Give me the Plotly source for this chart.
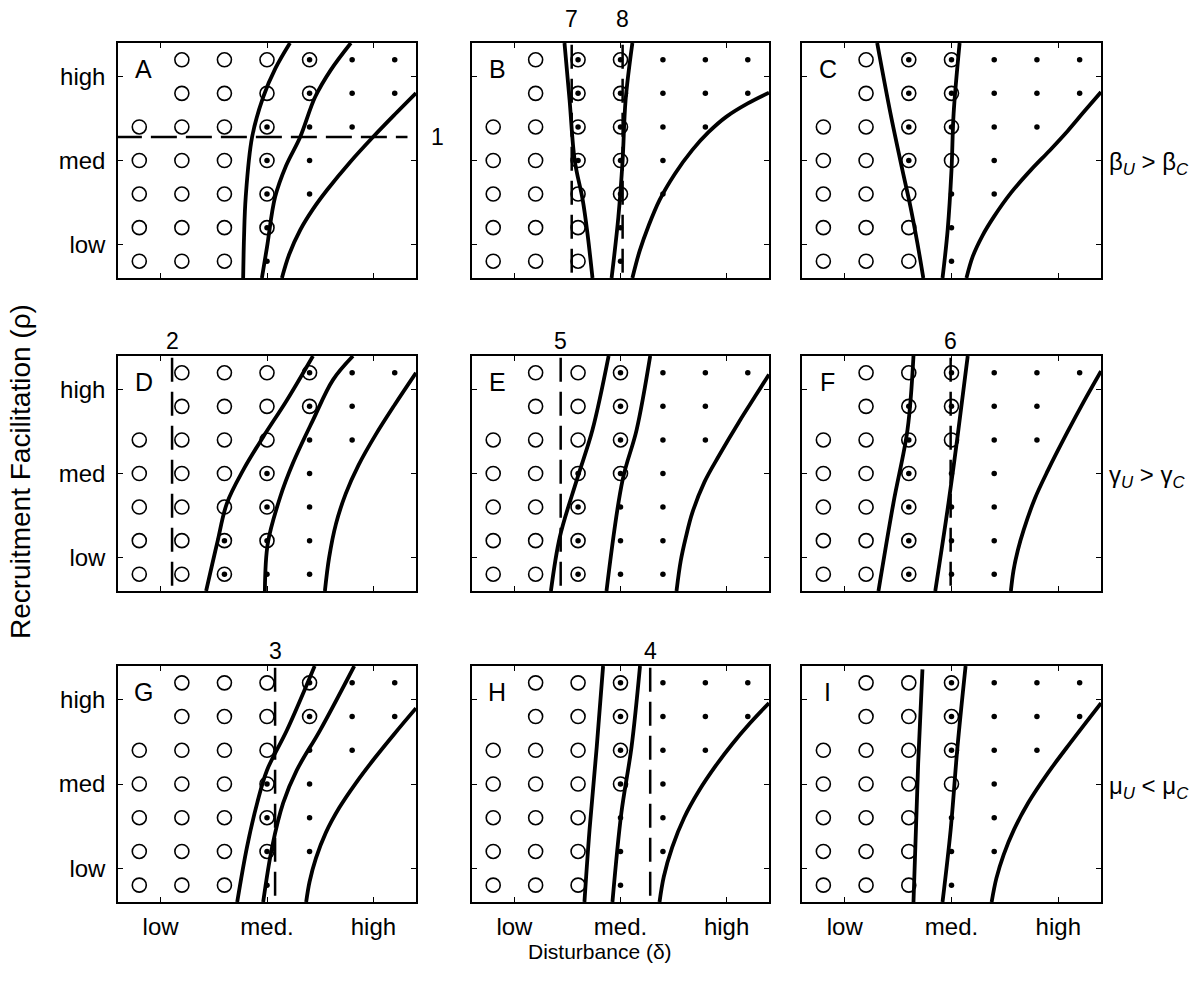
import plotly.graph_objects as go

# ---------------- data ----------------
COLS = [1, 2, 3, 4, 5, 6, 7]          # disturbance grid columns
ROWS = [7, 6, 5, 4, 3, 2, 1]          # facilitation grid rows (top -> bottom)
TICK_POS = [1.5, 4, 6.5]
X_TICK_LABELS = ["low", "med.", "high"]
Y_TICK_LABELS = ["low", "med", "high"]
PANEL_LETTERS = ["A", "B", "C", "D", "E", "F", "G", "H", "I"]

# cell codes: o = open circle (U), x = circle with dot (U+C), . = dot (C), - = none
GRID_A = ["-ooox..", "-ooox..", "ooox..-", "ooox.--", "ooox.--", "ooox---", "ooo.---"]
GRID_B = ["-oxx...", "-oxx...", "ooxx..-", "ooxx.--", "ooox.--", "ooo.---", "ooo.---"]
GRID_C = ["-oxx...", "-oxx...", "ooxx..-", "ooxo.--", "ooo..--", "ooo.---", "ooo.---"]
GRID_D = ["-ooox..", "-ooox.-", "oooo..-", "ooox.--", "ooox.--", "ooxx.--", "oox..--"]
GRID_E = ["-oox...", "-oox..-", "ooox..-", "ooxx.--", "oox..--", "oox..--", "oox..--"]
GRID_F = ["-oox...", "-oxx..-", "ooxo..-", "oox..--", "oox..--", "oox..--", "oox..--"]
GRID_G = ["-ooox..", "-ooox..", "oooo..-", "ooox.--", "ooox.--", "ooox.--", "ooo.---"]
GRID_H = ["-oox...", "-oox...", "ooox..-", "ooox.--", "ooo..--", "ooo..--", "ooo.---"]
GRID_I = ["-oox...", "-oox...", "ooox..-", "oooo.--", "ooo..--", "ooo..--", "ooo.---"]

# boundary curves (x = disturbance, y = facilitation)
CURVES_A = [([3.44, 3.46, 3.50, 3.65, 3.91, 4.20, 4.54], [0.5, 1.7, 2.91, 4.70, 5.89, 6.75, 7.5]),
            ([3.88, 4.00, 4.19, 4.45, 4.78, 5.13, 5.50, 5.97], [0.5, 1.42, 2.91, 3.85, 4.70, 5.89, 6.70, 7.5]),
            ([4.35, 4.52, 4.78, 5.08, 5.41, 5.95, 6.49, 7.00, 7.50],
             [0.5, 1.2, 1.93, 2.55, 3.12, 3.95, 4.70, 5.37, 6.01])]
CURVES_B = [([2.68, 2.80, 2.92, 3.11, 3.22, 3.34], [7.5, 5.80, 4.01, 2.82, 1.84, 0.5]),
            ([4.28, 4.12, 4.05, 3.95, 3.79], [7.5, 5.80, 4.01, 2.32, 0.5]),
            ([4.28, 4.45, 4.66, 4.92, 5.28, 5.69, 6.08, 6.49, 7.00, 7.50],
             [0.5, 1.3, 2.05, 2.82, 3.60, 4.31, 4.85, 5.30, 5.70, 6.02])]
CURVES_C = [([2.26, 2.57, 2.85, 3.04, 3.20, 3.34], [7.5, 5.41, 3.72, 2.62, 1.55, 0.5]),
            ([4.19, 4.05, 4.00, 3.91, 3.79], [7.5, 5.41, 3.72, 1.93, 0.5]),
            ([4.35, 4.50, 4.72, 4.99, 5.40, 5.86, 6.30, 6.72, 7.10, 7.50],
             [0.5, 1.15, 1.75, 2.32, 3.05, 3.72, 4.30, 4.88, 5.45, 6.04])]
CURVES_D = [([2.57, 2.83, 3.06, 3.44, 3.91, 4.47, 5.08], [0.5, 1.93, 3.12, 4.10, 5.09, 6.19, 7.5]),
            ([3.95, 4.02, 4.31, 4.61, 5.08, 5.55, 6.02], [0.5, 1.93, 3.30, 4.31, 5.59, 6.79, 7.5]),
            ([5.36, 5.46, 5.62, 5.85, 6.15, 6.55, 7.00, 7.50],
             [0.5, 1.5, 2.5, 3.4, 4.25, 5.15, 6.05, 7.0])]
CURVES_E = [([3.72, 3.34, 2.97, 2.57, 2.36], [7.5, 5.30, 3.81, 2.11, 0.5]),
            ([4.70, 4.38, 4.05, 3.67], [7.5, 5.30, 3.81, 0.5]),
            ([5.32, 5.42, 5.54, 5.69, 5.98, 6.33, 6.80, 7.20, 7.50],
             [0.5, 1.4, 2.1, 2.82, 3.75, 4.55, 5.55, 6.35, 6.95])]
CURVES_F = [([3.11, 2.97, 2.64, 2.29], [7.5, 5.30, 3.12, 0.5]),
            ([4.38, 4.14, 3.93, 3.62], [7.5, 5.09, 3.12, 0.5]),
            ([5.39, 5.45, 5.55, 5.69, 5.95, 6.26, 6.70, 7.10, 7.50],
             [0.5, 1.1, 1.7, 2.32, 3.25, 4.10, 5.20, 6.15, 7.05])]
CURVES_G = [([5.12, 4.47, 4.00, 3.77, 3.53, 3.30], [7.5, 5.60, 4.41, 3.44, 2.13, 0.5]),
            ([6.05, 5.25, 4.70, 4.38, 4.12, 3.91], [7.5, 5.60, 4.41, 3.44, 2.13, 0.5]),
            ([4.92, 5.00, 5.15, 5.38, 5.70, 6.10, 6.55, 7.00, 7.50],
             [0.5, 1.1, 1.8, 2.55, 3.3, 4.05, 4.8, 5.5, 6.25])]
CURVES_H = [([3.59, 3.44, 3.27, 3.15], [7.5, 5.10, 2.64, 0.5]),
            ([4.46, 4.26, 4.02, 3.81], [7.5, 5.10, 3.14, 0.5]),
            ([4.92, 5.02, 5.22, 5.50, 5.86, 6.25, 6.63, 7.05, 7.50],
             [0.5, 1.25, 2.13, 3.0, 3.82, 4.55, 5.18, 5.80, 6.40])]
CURVES_I = [([3.32, 3.22, 3.11], [7.40, 4.62, 0.5]),
            ([4.33, 4.14, 3.98, 3.79], [7.5, 5.10, 2.64, 0.5]),
            ([4.94, 5.05, 5.22, 5.46, 5.80, 6.26, 6.80, 7.50],
             [0.5, 1.2, 1.9, 2.64, 3.45, 4.33, 5.25, 6.40])]

# dashed reference lines: (orientation, position, label)
DASH_A = [("h", 4.70, "1")]
DASH_B = [("v", 2.85, "7"), ("v", 4.05, "8")]
DASH_C = []
DASH_D = [("v", 1.77, "2")]
DASH_E = [("v", 2.59, "5")]
DASH_F = [("v", 3.98, "6")]
DASH_G = [("v", 4.19, "3")]
DASH_H = [("v", 4.70, "4")]
DASH_I = []

ROW_LABELS = ["β<sub><i>U</i></sub> &gt; β<sub><i>C</i></sub>",
              "γ<sub><i>U</i></sub> &gt; γ<sub><i>C</i></sub>",
              "μ<sub><i>U</i></sub> &lt; μ<sub><i>C</i></sub>"]

GRIDS = [GRID_A, GRID_B, GRID_C, GRID_D, GRID_E, GRID_F, GRID_G, GRID_H, GRID_I]
CURVES = [CURVES_A, CURVES_B, CURVES_C, CURVES_D, CURVES_E, CURVES_F, CURVES_G, CURVES_H, CURVES_I]
DASHES = [DASH_A, DASH_B, DASH_C, DASH_D, DASH_E, DASH_F, DASH_G, DASH_H, DASH_I]

# ---------------- layout ----------------
W, H = 1200, 987
XDOM_PX = [(118, 416), (472, 769), (802, 1101)]
YDOM_PX = [(43, 278), (356, 591), (666, 902)]
FONT = "Liberation Sans, Arial, Helvetica, sans-serif"


def txt(text, x, y, xref="paper", yref="paper", size=23, xanchor="center", angle=0):
    return dict(text=text, x=x, y=y, xref=xref, yref=yref, xanchor=xanchor, yanchor="middle",
                textangle=angle, showarrow=False, font=dict(size=size, family=FONT, color="black"))


fig = go.Figure()
annotations = []

for k in range(9):
    r, c = divmod(k, 3)
    sfx = "" if k == 0 else str(k + 1)
    xref, yref = "x" + sfx, "y" + sfx
    grid, curves, dashes = GRIDS[k], CURVES[k], DASHES[k]

    # boundary curves
    for cx, cy in curves:
        fig.add_trace(go.Scatter(x=cx, y=cy, mode="lines", xaxis=xref, yaxis=yref,
                                 line=dict(color="black", width=3.8, shape="spline", smoothing=1.0),
                                 hoverinfo="skip", showlegend=False))
    # dashed lines
    for orient, pos, lab in dashes:
        if orient == "h":
            fig.add_trace(go.Scatter(x=[0.45, 7.3], y=[pos, pos], mode="lines", xaxis=xref, yaxis=yref,
                                     line=dict(color="black", width=2.5, dash="26px,9px"),
                                     hoverinfo="skip", showlegend=False, cliponaxis=False))
            annotations.append(txt(lab, 437 / W, 1 - 137 / H))
        else:
            fig.add_trace(go.Scatter(x=[pos, pos], y=[7.45, 0.55], mode="lines", xaxis=xref, yaxis=yref,
                                     line=dict(color="black", width=2.5, dash="24px,10px"),
                                     hoverinfo="skip", showlegend=False))
            off = 24 if r == 0 else 15
            annotations.append(txt(lab, pos, 1 - (YDOM_PX[r][0] - off) / H, xref=xref))

    # markers
    cx_o, cy_o, cx_d, cy_d = [], [], [], []
    for ri, rowstr in enumerate(grid):
        for ci, code in enumerate(rowstr):
            if code in "ox":
                cx_o.append(COLS[ci]); cy_o.append(ROWS[ri])
            if code in ".x":
                cx_d.append(COLS[ci]); cy_d.append(ROWS[ri])
    fig.add_trace(go.Scatter(x=cx_o, y=cy_o, mode="markers", xaxis=xref, yaxis=yref,
                             marker=dict(symbol="circle-open", size=14, color="black",
                                         line=dict(width=1.6, color="black")),
                             hoverinfo="skip", showlegend=False))
    fig.add_trace(go.Scatter(x=cx_d, y=cy_d, mode="markers", xaxis=xref, yaxis=yref,
                             marker=dict(symbol="circle", size=5.5, color="black"),
                             hoverinfo="skip", showlegend=False))

    # panel letter
    annotations.append(txt(PANEL_LETTERS[k], 1.1, 6.72, xref=xref, yref=yref, size=25))

    x0, x1 = XDOM_PX[c]
    y0, y1 = YDOM_PX[r]
    common = dict(range=[0.5, 7.5], showgrid=False, zeroline=False, showline=True,
                  linecolor="black", linewidth=1.5, mirror="allticks", ticks="inside",
                  ticklen=5, tickwidth=1, tickcolor="black", tickvals=TICK_POS,
                  tickfont=dict(size=24, family=FONT, color="black"), fixedrange=True)
    fig.layout["xaxis" + sfx] = dict(common, domain=[x0 / W, x1 / W], anchor=yref,
                                     ticktext=X_TICK_LABELS, showticklabels=(r == 2),
                                     ticklabelstandoff=2)
    fig.layout["yaxis" + sfx] = dict(common, domain=[1 - y1 / H, 1 - y0 / H], anchor=xref,
                                     ticktext=Y_TICK_LABELS, showticklabels=(c == 0),
                                     ticklabelstandoff=6)

# row condition labels
for r, lab in enumerate(ROW_LABELS):
    yc = (YDOM_PX[r][0] + YDOM_PX[r][1]) / 2
    annotations.append(txt(lab, 1107 / W, 1 - (yc + 3) / H, xanchor="left", size=24))

# axis titles
annotations.append(txt("Recruitment Facilitation (ρ)", 20 / W, 1 - 472 / H, size=28, angle=-90))
annotations.append(txt("Disturbance (δ)", 600 / W, 1 - 951 / H, size=21))

fig.update_layout(width=W, height=H, margin=dict(l=0, r=0, t=0, b=0),
                  paper_bgcolor="white", plot_bgcolor="white",
                  annotations=annotations, showlegend=False)

fig.write_html("out.html", config={"displayModeBar": False},
               post_script="document.body.style.margin='0';")
